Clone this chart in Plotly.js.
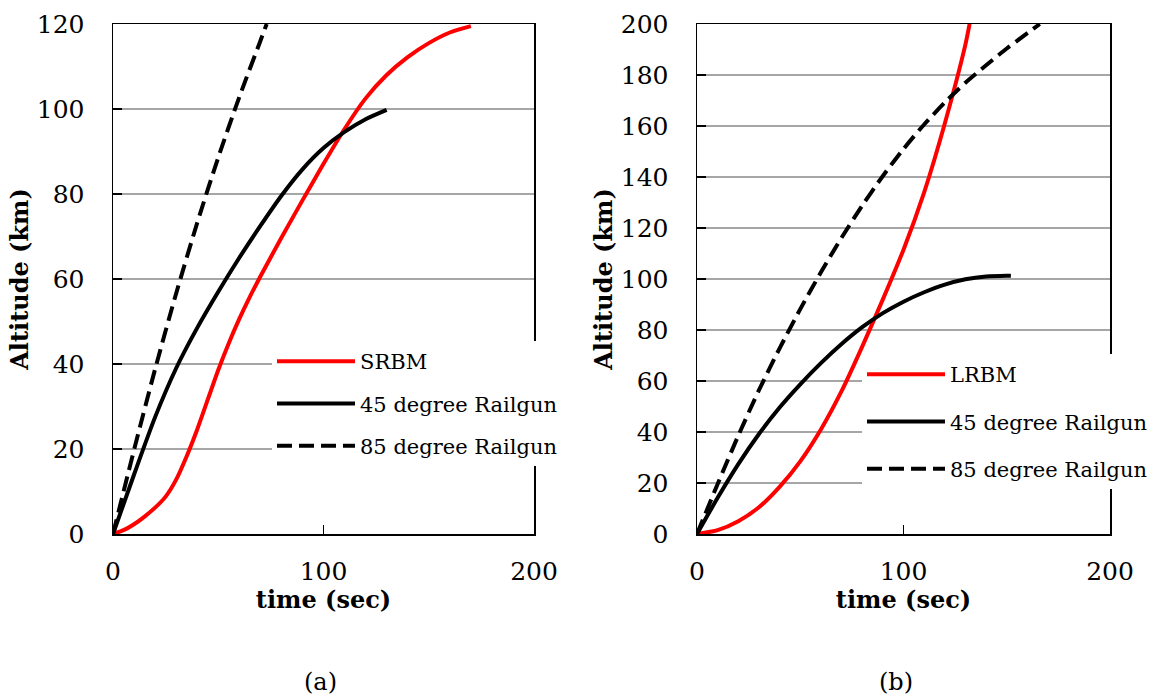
<!DOCTYPE html>
<html>
<head>
<meta charset="utf-8">
<script src="https://cdn.plot.ly/plotly-3.0.1.min.js"></script>
<style>
html,body{margin:0;padding:0;background:#fff;}
#chart{width:1158px;height:696px;}
</style>
</head>
<body>
<div id="chart"></div>
<script>
// ---- Panel (a) data (time in s, altitude in km) ----
var t_srbm   = [0, 5, 10, 15, 20, 25, 30, 35, 40, 45, 50, 55, 60, 65, 70, 80, 90, 100, 110, 120, 130, 140, 150, 160, 170];
var alt_srbm = [0, 0.9, 2.3, 4.1, 6.2, 8.8, 12.8, 18.3, 24.6, 31.6, 38.6, 44.9, 50.6, 55.8, 60.6, 69.7, 78.5, 87.1, 95.3, 102.5, 108, 112.2, 115.5, 118, 119.5];

var t_45a    = [0, 10, 20, 30, 40, 50, 60, 70, 80, 90, 100, 110, 120, 130];
var alt_45a  = [0, 14, 27.5, 39, 48.5, 57, 65, 72.5, 79.6, 85.8, 90.8, 94.6, 97.6, 99.8];

var t_85a    = [0, 10, 20, 30, 40, 50, 60, 70, 73];
var alt_85a  = [0, 19.8, 38.8, 56.6, 73.2, 88.6, 102.8, 116, 120];

// ---- Panel (b) data ----
var t_lrbm   = [0, 10, 20, 30, 40, 50, 60, 70, 80, 90, 100, 110, 120, 130, 132];
var alt_lrbm = [0, 1.5, 5, 10.5, 18.5, 28.5, 41, 56, 73.5, 92, 111.5, 134, 161, 192, 200];

var t_45b    = [0, 10, 20, 30, 40, 50, 60, 70, 80, 90, 100, 110, 120, 130, 140, 150, 152];
var alt_45b  = [0, 14.2, 27.4, 39.2, 49.6, 58.7, 67, 74.5, 81.1, 86.6, 91.1, 94.8, 97.8, 99.9, 101, 101.3, 101.3];

var t_85b    = [0, 10, 20, 30, 40, 50, 60, 70, 80, 90, 100, 110, 120, 130, 140, 150, 160, 166];
var alt_85b  = [0, 19.6, 38.6, 56.4, 72.8, 88.2, 102.6, 116.2, 128.8, 140.4, 151, 160.6, 169.2, 177, 183.8, 190.4, 196.4, 200];

var xTitle = 'time (sec)';
var yTitle = 'Altitude (km)';
var panelLabels = ['(a)', '(b)'];

var FONT = 'DejaVu Serif';
var RED = '#FF0000', BLACK = '#000000';
var DASH = '15px,7px';

function tr(x, y, name, color, dash, xa, ya, leg, grp) {
  return {
    x: x, y: y, name: name, type: 'scatter', mode: 'lines',
    line: {color: color, width: 4, dash: dash, shape: 'spline', smoothing: 0.7},
    xaxis: xa, yaxis: ya, legend: leg, legendgroup: grp,
    hoverinfo: 'skip'
  };
}

var data = [
  tr(t_srbm, alt_srbm, 'SRBM', RED, 'solid', 'x', 'y', 'legend', 'a1'),
  tr(t_45a, alt_45a, '45 degree Railgun', BLACK, 'solid', 'x', 'y', 'legend', 'a2'),
  tr(t_85a, alt_85a, '85 degree Railgun', BLACK, DASH, 'x', 'y', 'legend', 'a3'),
  tr(t_lrbm, alt_lrbm, 'LRBM', RED, 'solid', 'x2', 'y2', 'legend2', 'b1'),
  tr(t_45b, alt_45b, '45 degree Railgun', BLACK, 'solid', 'x2', 'y2', 'legend2', 'b2'),
  tr(t_85b, alt_85b, '85 degree Railgun', BLACK, DASH, 'x2', 'y2', 'legend2', 'b3')
];

function xaxis(domain, anchor) {
  return {
    domain: domain, anchor: anchor, range: [0, 200], dtick: 100, tick0: 0,
    ticks: 'inside', ticklen: 9, tickwidth: 1.5, tickcolor: BLACK,
    showline: true, linecolor: BLACK, linewidth: 1.5, mirror: true,
    showgrid: false, zeroline: false, automargin: false,
    tickfont: {family: FONT, size: 25, color: BLACK},
    ticklabelstandoff: 14,
    title: {text: '<b>' + xTitle + '</b>', font: {family: FONT, size: 24, color: BLACK}, standoff: 2}
  };
}
function yaxis(domain, anchor, max) {
  return {
    domain: domain, anchor: anchor, range: [0, max], dtick: 20, tick0: 0,
    ticks: 'inside', ticklen: 9, tickwidth: 1.5, tickcolor: BLACK,
    showline: true, linecolor: BLACK, linewidth: 1.5, mirror: true,
    showgrid: true, gridcolor: '#a6a6a6', gridwidth: 1.3, zeroline: false, automargin: false,
    tickfont: {family: FONT, size: 25, color: BLACK},
    ticklabelstandoff: 22,
    title: {text: '<b>' + yTitle + '</b>', font: {family: FONT, size: 24, color: BLACK}, standoff: 1}
  };
}

var yDom = [(696 - 534) / 696, (696 - 24) / 696];

var legendBase = {
  bgcolor: '#ffffff', borderwidth: 0, xanchor: 'left', yanchor: 'top',
  font: {family: FONT, size: 21, color: BLACK},
  itemwidth: 78, tracegroupgap: 12
};

var layout = {
  width: 1158, height: 696,
  margin: {l: 0, r: 0, t: 0, b: 0},
  paper_bgcolor: '#ffffff', plot_bgcolor: '#ffffff',
  showlegend: true,
  xaxis: xaxis([113 / 1158, 534 / 1158], 'y'),
  yaxis: yaxis(yDom, 'x', 120),
  xaxis2: xaxis([697 / 1158, 1110 / 1158], 'y2'),
  yaxis2: yaxis(yDom, 'x2', 200),
  legend: Object.assign({}, legendBase, {x: 272 / 1158, y: (696 - 341) / 696}),
  legend2: Object.assign({}, legendBase, {x: 862 / 1158, y: (696 - 354) / 696, tracegroupgap: 17}),
  annotations: [
    {text: panelLabels[0], xref: 'paper', yref: 'paper', x: 320 / 1158, y: 0, yshift: -2,
     xanchor: 'center', yanchor: 'bottom', showarrow: false, font: {family: FONT, size: 24, color: BLACK}},
    {text: panelLabels[1], xref: 'paper', yref: 'paper', x: 896 / 1158, y: 0, yshift: -2,
     xanchor: 'center', yanchor: 'bottom', showarrow: false, font: {family: FONT, size: 24, color: BLACK}}
  ]
};

Plotly.newPlot('chart', data, layout, {displayModeBar: false, staticPlot: true});
</script>
</body>
</html>
